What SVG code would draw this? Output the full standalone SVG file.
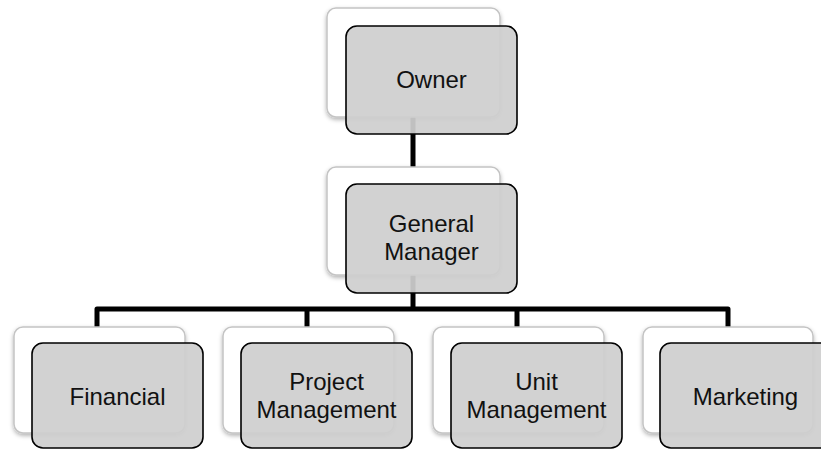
<svg xmlns="http://www.w3.org/2000/svg" width="821" height="450" viewBox="0 0 821 450">
  <defs>
    <filter id="soft" x="-10%" y="-10%" width="125%" height="130%">
      <feDropShadow dx="0" dy="2" stdDeviation="2" flood-color="#000" flood-opacity="0.3"/>
    </filter>
  </defs>
  <style>
    .back { fill: #ffffff; stroke: #c4c4c4; stroke-width: 1.5; filter: url(#soft); }
    .front { fill: #cfcfcf; fill-opacity: 0.93; stroke: #000000; stroke-width: 1.6; }
    .label { font-family: "Liberation Sans", Arial, sans-serif; font-size: 24px; fill: #111111; text-anchor: middle; }
    .wire { fill: none; stroke: #000000; stroke-width: 5; stroke-linejoin: round; }
  </style>

  <!-- connectors -->
  <g id="connectors">
    <path class="wire" d="M413 117 V168"/>
    <path class="wire" d="M413 275 V309"/>
    <path class="wire" d="M97 327 V309 H728 V327"/>
    <path class="wire" d="M307 309 V327"/>
    <path class="wire" d="M517 309 V327"/>
  </g>

  <g id="owner">
    <rect class="back" x="327" y="8" width="173" height="109" rx="9"/>
    <rect class="front" x="346" y="26" width="171" height="108" rx="11"/>
    <text class="label" x="431.5" y="88">Owner</text>
  </g>

  <g id="general-manager">
    <rect class="back" x="327" y="167" width="173" height="108" rx="9"/>
    <rect class="front" x="346" y="184" width="171" height="109" rx="11"/>
    <text class="label" x="431.5" y="232">General</text>
    <text class="label" x="431.5" y="260">Manager</text>
  </g>

  <g id="financial">
    <rect class="back" x="14" y="327" width="171" height="106" rx="9"/>
    <rect class="front" x="32" y="343" width="171" height="105" rx="11"/>
    <text class="label" x="117.5" y="405">Financial</text>
  </g>

  <g id="project-management">
    <rect class="back" x="223" y="327" width="171" height="106" rx="9"/>
    <rect class="front" x="241" y="343" width="171" height="105" rx="11"/>
    <text class="label" x="326.5" y="390">Project</text>
    <text class="label" x="326.5" y="418">Management</text>
  </g>

  <g id="unit-management">
    <rect class="back" x="433" y="327" width="171" height="106" rx="9"/>
    <rect class="front" x="451" y="343" width="171" height="105" rx="11"/>
    <text class="label" x="536.5" y="390">Unit</text>
    <text class="label" x="536.5" y="418">Management</text>
  </g>

  <g id="marketing">
    <rect class="back" x="643" y="327" width="170" height="106" rx="9"/>
    <rect class="front" x="660" y="343" width="171" height="105" rx="11"/>
    <text class="label" x="745.5" y="405">Marketing</text>
  </g>
</svg>
